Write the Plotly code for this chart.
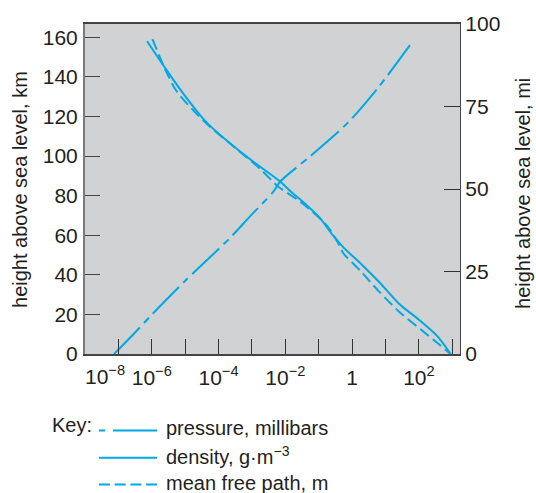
import plotly.graph_objects as go

# Heights above sea level (km) with log10 of each quantity at that height
pressure_km = [0, 10, 20, 37, 52, 58.6, 70, 82, 87, 100, 117, 135, 156]
pressure_log = [-7.13, -6.55, -5.99, -5.0, -4.06, -3.66, -3.03, -2.36, -2.16, -1.25, -0.12, 0.80, 1.73]

density_km = [158, 145, 133, 117, 101, 87, 82, 75, 69, 60, 54, 45, 36, 25, 18, 9, 0]
density_log = [-6.14, -5.62, -5.12, -4.36, -3.26, -2.15, -1.83, -1.35, -0.98, -0.58, -0.27, 0.30, 0.83, 1.43, 1.95, 2.55, 2.95]

mfp_km = [159, 142, 132.6, 117, 105, 93.6, 84.5, 77, 65, 54.5, 51, 42, 32, 21, 12.8, 4.5, 0]
mfp_log = [-5.98, -5.55, -5.25, -4.40, -3.56, -2.76, -2.21, -1.56, -0.76, -0.37, -0.27, 0.25, 0.78, 1.43, 2.03, 2.63, 2.95]

# Axis ticks: labelled decades, plus unlabelled odd decades
x_major_exponents = [-6, -4, -2, 0, 2]
x_major_labels = ["10<sup>−6</sup>", "10<sup>−4</sup>", "10<sup>−2</sup>", "1", "10<sup>2</sup>"]
x_minor_exponents = [-7, -5, -3, -1, 1, 3]
km_ticks = [0, 20, 40, 60, 80, 100, 120, 140, 160]
mi_ticks = [0, 25, 50, 75, 100]

legend_labels = ["pressure, millibars", "density, g·m<sup>−3</sup>", "mean free path, m"]

CYAN = "#00a8e4"
INK = "#231f20"
FONT = "Liberation Sans, Arial, sans-serif"

W, H = 536, 493
L, R, T, B = 85, 76, 20, 139
PW, PH = W - L - R, H - T - B


def px_x(px):
    return (px - L) / PW


def px_y(py):
    return (H - B - py) / PH


fig = go.Figure()

fig.add_trace(go.Scatter(
    x=[10 ** v for v in pressure_log], y=pressure_km, mode="lines",
    line=dict(color=CYAN, width=2, dash="37px,6px,7px,6px", shape="spline", smoothing=0.8),
    name=legend_labels[0], showlegend=False, hoverinfo="skip"))
fig.add_trace(go.Scatter(
    x=[10 ** v for v in density_log], y=density_km, mode="lines",
    line=dict(color=CYAN, width=2, shape="spline", smoothing=0.8),
    name=legend_labels[1], showlegend=False, hoverinfo="skip"))
fig.add_trace(go.Scatter(
    x=[10 ** v for v in mfp_log], y=mfp_km, mode="lines",
    line=dict(color=CYAN, width=2, dash="11px,5px", shape="spline", smoothing=0.8),
    name=legend_labels[2], showlegend=False, hoverinfo="skip"))

# Secondary height scale in miles
fig.add_trace(go.Scatter(x=[None], y=[None], yaxis="y2", mode="lines",
                         showlegend=False, hoverinfo="skip"))

tick_font = dict(family=FONT, size=21, color=INK)
title_font = dict(family=FONT, size=20, color=INK)

fig.update_layout(
    width=W, height=H,
    margin=dict(l=L, r=R, t=T, b=B),
    paper_bgcolor="white",
    plot_bgcolor="#d1d2d4",
    font=dict(family=FONT, color=INK),
    xaxis=dict(
        type="log", range=[-8, 3.23],
        tickvals=[10 ** e for e in x_major_exponents],
        ticktext=x_major_labels,
        ticks="inside", ticklen=15, tickwidth=1.3, tickcolor="#333",
        minor=dict(tickvals=[10 ** e for e in x_minor_exponents], ticks="inside",
                   ticklen=15, tickwidth=1.3, tickcolor="#333", showgrid=False),
        showline=True, linecolor="#444", linewidth=1.5, mirror=True,
        showgrid=False, zeroline=False, tickfont=tick_font,
        ticklabelstandoff=4,
    ),
    yaxis=dict(
        range=[0, 166.7], tickvals=km_ticks,
        ticks="inside", ticklen=15, tickwidth=1.3, tickcolor="#444",
        showline=True, linecolor="#7a7a7a", linewidth=2,
        showgrid=False, zeroline=False, tickfont=tick_font,
        ticklabelstandoff=1,
    ),
    yaxis2=dict(
        range=[0, 100], tickvals=mi_ticks, overlaying="y", side="right",
        ticks="inside", ticklen=16, tickwidth=1.3, tickcolor="#333",
        showline=True, linecolor="#444", linewidth=1.2,
        showgrid=False, zeroline=False, tickfont=tick_font,
        ticklabelstandoff=0,
    ),
)

annotations = [
    # leftmost decade label sits flush with the axis start
    dict(x=-8, y=0, xref="x", yref="paper", text="10<sup>−8</sup>", showarrow=False,
         xanchor="left", yanchor="top", yshift=-6, xshift=-2, font=tick_font),
    dict(x=px_x(20), y=px_y(188), xref="paper", yref="paper",
         text="height above sea level, km", textangle=-90, showarrow=False,
         xanchor="center", yanchor="middle", font=title_font),
    dict(x=px_x(523), y=px_y(192), xref="paper", yref="paper",
         text="height above sea level, mi", textangle=-90, showarrow=False,
         xanchor="center", yanchor="middle", font=title_font),
    dict(x=px_x(50), y=px_y(426), xref="paper", yref="paper", text="Key:",
         showarrow=False, xanchor="left", yanchor="middle", font=title_font),
]

legend_rows_y = [431.5, 459, 486]
legend_text_y = [429, 457, 485]
legend_dashes = ["6px,8px,44px,10px", "solid", "11px,4.7px"]

shapes = []
for label, ly, ty, dash in zip(legend_labels, legend_rows_y, legend_text_y, legend_dashes):
    shapes.append(dict(type="line", xref="paper", yref="paper",
                       x0=px_x(99), x1=px_x(157), y0=px_y(ly), y1=px_y(ly),
                       line=dict(color=CYAN, width=2, dash=dash)))
    annotations.append(dict(x=px_x(164), y=px_y(ty), xref="paper", yref="paper",
                            text=label, showarrow=False, xanchor="left", yanchor="middle",
                            font=title_font))

fig.update_layout(annotations=annotations, shapes=shapes)

fig.write_html("out.html", config={"responsive": False, "displayModeBar": False})
